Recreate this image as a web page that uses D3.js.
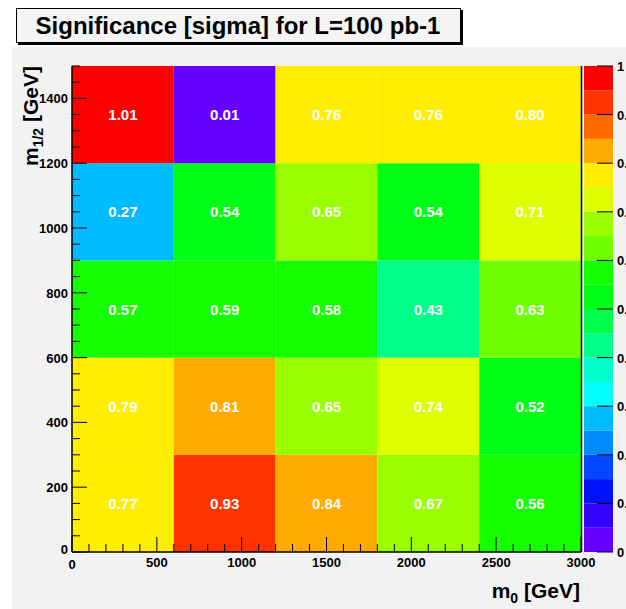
<!DOCTYPE html>
<html>
<head>
<meta charset="utf-8">
<script src="https://cdn.jsdelivr.net/npm/d3@7"></script>
<style>
  body { margin: 0; background: #ffffff; }
  svg text { font-family: "Liberation Sans", Arial, Helvetica, sans-serif; font-weight: bold; }
</style>
</head>
<body>
<svg id="chart"></svg>
<script>
// significance map, m0 vs m1/2

var width = 626, height = 609;
var margin = {top: 66, right: 45, bottom: 57, left: 72};

// bin edges
var m0Bins = [0, 600, 1200, 1800, 2400, 3000];
var mHalfBins = [0, 300, 600, 900, 1200, 1500];

// significance per cell, rows from m1/2 = 0 upward, columns along m0
var row0 = [0.77, 0.93, 0.84, 0.67, 0.56];
var row1 = [0.79, 0.81, 0.65, 0.74, 0.52];
var row2 = [0.57, 0.59, 0.58, 0.43, 0.63];
var row3 = [0.27, 0.54, 0.65, 0.54, 0.71];
var row4 = [1.01, 0.01, 0.76, 0.76, 0.798];

var xTicks = [0, 500, 1000, 1500, 2000, 2500, 3000];
var yTicks = [0, 200, 400, 600, 800, 1000, 1200, 1400];

// 20 contour colours, bottom (0) to top (1)
var paletteColors = ["#6600ff", "#3300ff", "#0011ff", "#0048ff", "#008cff",
                     "#00bbff", "#00ffff", "#00ffcc", "#00ff88", "#00ff4d",
                     "#00ff14", "#14ff00", "#6eff00", "#99ff00", "#ddff00",
                     "#ffee00", "#ffaa00", "#ff6a00", "#ff3300", "#ff0000"];

var rows = [row0, row1, row2, row3, row4];
var cells = [];
rows.forEach(function(r, j) {
    r.forEach(function(v, i) {
        cells.push({x0: m0Bins[i], x1: m0Bins[i + 1], y0: mHalfBins[j], y1: mHalfBins[j + 1], v: v});
    });
});

var svg = d3.select("#chart").attr("width", width).attr("height", height);

// canvas background
svg.append("rect").attr("x", 12).attr("y", 47).attr("width", width - 12).attr("height", height - 47)
   .attr("fill", "#f2f2f2");

var plotW = 581 - margin.left;
var plotH = 552 - margin.top;

var x = d3.scaleLinear().domain([0, 3000]).range([margin.left, margin.left + plotW]);
var y = d3.scaleLinear().domain([0, 1500]).range([margin.top + plotH, margin.top]);

var colorScale = d3.scaleQuantize().domain([0, 1]).range(paletteColors);
function cellColor(v) { return colorScale(Math.max(0, Math.min(0.9999, v))); }

// cells
svg.append("g").selectAll("rect")
   .data(cells).enter().append("rect")
   .attr("x", function(d) { return x(d.x0); })
   .attr("y", function(d) { return y(d.y1); })
   .attr("width", function(d) { return x(d.x1) - x(d.x0); })
   .attr("height", function(d) { return y(d.y0) - y(d.y1); })
   .attr("fill", function(d) { return cellColor(d.v); });

// cell labels
svg.append("g").selectAll("text")
   .data(cells).enter().append("text")
   .attr("x", function(d) { return x((d.x0 + d.x1) / 2); })
   .attr("y", function(d) { return y((d.y0 + d.y1) / 2) + 5.5; })
   .attr("text-anchor", "middle")
   .attr("fill", "#ffffff")
   .style("font-size", "15px")
   .text(function(d) { return d.v.toFixed(2); });

// frame lines
svg.append("line").attr("x1", x(3000) + 0.5).attr("x2", x(3000) + 0.5)
   .attr("y1", y(1500)).attr("y2", y(0)).attr("stroke", "#000").attr("stroke-width", 1.5);

// x axis: ticks drawn inward
var xAxis = svg.append("g").attr("transform", "translate(0," + y(0) + ")");
xAxis.append("line").attr("x1", x(0)).attr("x2", x(3000)).attr("stroke", "#000").attr("stroke-width", 1.5);
xAxis.selectAll("line.minor").data(d3.range(0, 3001, 100)).enter().append("line")
   .attr("class", "minor")
   .attr("x1", function(d) { return x(d); }).attr("x2", function(d) { return x(d); })
   .attr("y1", 0).attr("y2", function(d) { return d % 500 == 0 ? -15 : -8; })
   .attr("stroke", "#000");
xAxis.selectAll("text").data(xTicks).enter().append("text")
   .attr("x", function(d) { return x(d); })
   .attr("y", function(d) { return d == 0 ? 17 : 15; })
   .attr("text-anchor", "middle")
   .style("font-size", "13px")
   .text(function(d) { return d; });

// y axis
var yAxis = svg.append("g").attr("transform", "translate(" + x(0) + ",0)");
yAxis.append("line").attr("y1", y(0)).attr("y2", y(1500)).attr("stroke", "#000").attr("stroke-width", 1.5);
yAxis.selectAll("line.minor").data(d3.range(0, 1501, 50)).enter().append("line")
   .attr("class", "minor")
   .attr("y1", function(d) { return y(d); }).attr("y2", function(d) { return y(d); })
   .attr("x1", 0).attr("x2", function(d) { return d % 200 == 0 ? 15 : 8; })
   .attr("stroke", "#000");
yAxis.selectAll("text").data(yTicks).enter().append("text")
   .attr("x", -4)
   .attr("y", function(d) { return y(d) + (d == 0 ? 2 : 5); })
   .attr("text-anchor", "end")
   .style("font-size", "13px")
   .text(function(d) { return d; });

// axis titles
var xt = svg.append("text").attr("x", 580).attr("y", 598).attr("text-anchor", "end")
   .style("font-size", "21px");
xt.append("tspan").text("m");
xt.append("tspan").attr("dy", 5).style("font-size", "14px").text("0");
xt.append("tspan").attr("dy", -5).text(" [GeV]");

var yt = svg.append("text").attr("transform", "translate(38,66) rotate(-90)")
   .attr("text-anchor", "end").style("font-size", "21px");
yt.append("tspan").text("m");
yt.append("tspan").attr("dy", 5).style("font-size", "14px").text("1/2");
yt.append("tspan").attr("dy", -5).text(" [GeV]");

// palette
var pal = d3.scaleLinear().domain([0, 1]).range([y(0), y(1500)]);
var palX = 584, palW = 29;
svg.append("g").selectAll("rect").data(paletteColors).enter().append("rect")
   .attr("x", palX)
   .attr("y", function(d, i) { return pal((i + 1) / 20); })
   .attr("width", palW)
   .attr("height", function(d, i) { return pal(i / 20) - pal((i + 1) / 20); })
   .attr("fill", function(d) { return d; });
svg.append("g").selectAll("line").data(d3.range(0, 11)).enter().append("line")
   .attr("x1", palX + palW - 16).attr("x2", palX + palW)
   .attr("y1", function(d) { return pal(d / 10); }).attr("y2", function(d) { return pal(d / 10); })
   .attr("stroke", "#000");
svg.append("g").selectAll("text").data(d3.range(0, 11)).enter().append("text")
   .attr("x", palX + palW + 4)
   .attr("y", function(d) { return pal(d / 10) + 5; })
   .style("font-size", "13px")
   .text(function(d) { return d == 0 ? "0" : d == 10 ? "1" : "0." + d; });

// title box
svg.append("rect").attr("x", 18).attr("y", 10).attr("width", 445).attr("height", 35).attr("fill", "#000");
svg.append("rect").attr("x", 16.5).attr("y", 8.5).attr("width", 444).attr("height", 34)
   .attr("fill", "#f4f4f4").attr("stroke", "#000").attr("stroke-width", 1);
svg.append("text").attr("x", 238).attr("y", 34).attr("text-anchor", "middle")
   .style("font-size", "24px")
   .text("Significance [sigma] for L=100 pb-1");
</script>
</body>
</html>
